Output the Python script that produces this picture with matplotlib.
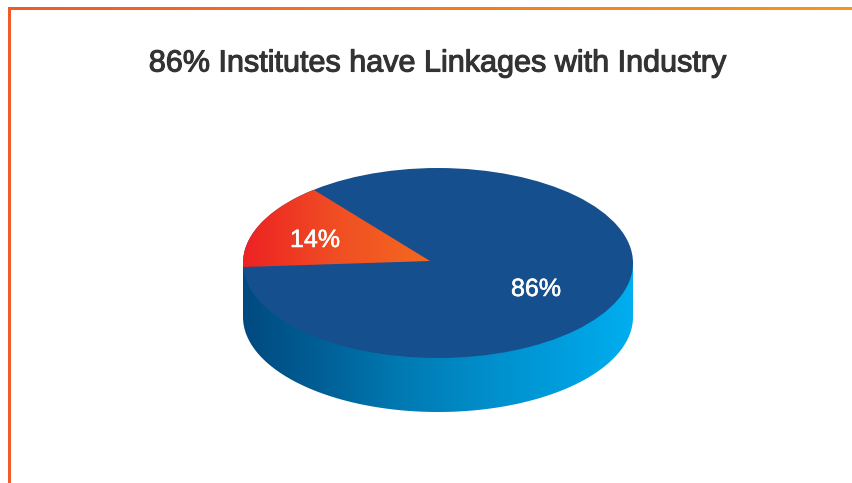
import numpy as np
import matplotlib
matplotlib.use("Agg")
import matplotlib.pyplot as plt
from matplotlib.patches import Circle, Polygon
from matplotlib.colors import LinearSegmentedColormap
import matplotlib.patheffects as pe

title = "86% Institutes have Linkages with Industry"
categories = ["No linkages", "Linkages"]
values = [14, 86]
labels = ["14%", "86%"]

W, H = 853, 483
CX, CY, RX, RY = 438, 263, 195, 95   # ellipse of the pie's top, pixels
DEPTH = 54 / RY
APEX = (-8 / RX, 2 / RY)
START = 128.5
STRETCH = 1.097                      # perspective widening of the slice


def ux(p):
    return (p - CX) / RX


def uy(p):
    return (CY - p) / RY


fig = plt.figure(figsize=(W / 100, H / 100), dpi=100, facecolor="white")
ax = fig.add_axes([0, 0, 1, 1])
ax.axis("off")
xlim = (ux(0), ux(W))
ylim = (uy(H), uy(0))


def gradient(colors, extent, clip, z=2):
    cmap = LinearSegmentedColormap.from_list("g", colors)
    g = np.linspace(0, 1, 256)[None, :]
    im = ax.imshow(g, cmap=cmap, extent=extent, aspect="auto", zorder=z,
                   origin="lower", interpolation="bilinear")
    if clip is not None:
        im.set_clip_path(clip)
    return im


# side of the cylinder
t = np.linspace(np.pi, 2 * np.pi, 300)
side_pts = np.vstack([np.c_[np.cos(t), np.sin(t) - DEPTH], [[1, 0], [-1, 0]]])
side = Polygon(side_pts, closed=True, transform=ax.transData, fc="none", ec="none")
ax.add_patch(side)
gradient(["#004a80", "#005f96", "#0079b2", "#008cc8", "#009cdc", "#00aeef"],
         (-1, 1, -1 - DEPTH, 0), side, z=1)

# top of the pie
ax.add_patch(Circle((0, 0), 1, fc="#154f8d", ec="none", zorder=2))

# small slice: apex, then points on the rim along the slice's directions
span = values[0] / sum(values) * 360 * STRETCH
th = np.radians(np.linspace(START, START + span, 200))
dirs = np.c_[np.cos(th), np.sin(th)]
b = (dirs * APEX).sum(1)
c = APEX[0] ** 2 + APEX[1] ** 2 - 1
r = -b + np.sqrt(b ** 2 - c)
slice_pts = np.vstack([[APEX], np.array(APEX) + dirs * r[:, None]])
slice_patch = Polygon(slice_pts, closed=True, transform=ax.transData, fc="none", ec="none")
ax.add_patch(slice_patch)
gradient(["#ed2224", "#f04e23", "#f4691f"], (-1, APEX[0], -0.2, 1), slice_patch, z=3)

# frame
gradient(["#f15a29", "#f47b20", "#f7941d"], (ux(7.5), ux(W), uy(10), uy(7.0)), None, z=4)
ax.fill_between([ux(7.5), ux(11)], uy(H), uy(7.5), color="#f15a29", lw=0, zorder=4)

ax.set_xlim(xlim)
ax.set_ylim(ylim)

# text
ax.text(ux(437), uy(63.5), title, ha="center", va="center", fontsize=22,
        family="Liberation Sans", color="#333333", zorder=6,
        path_effects=[pe.withStroke(linewidth=0.8, foreground="#333333")])
stroke = [pe.withStroke(linewidth=0.4, foreground="white")]
ax.text(ux(315), uy(240), labels[0], ha="center", va="center", fontsize=18,
        family="Liberation Sans", color="white", zorder=6, path_effects=stroke)
ax.text(ux(536), uy(289), labels[1], ha="center", va="center", fontsize=18,
        family="Liberation Sans", color="white", zorder=6, path_effects=stroke)

fig.savefig("out.png", dpi=100, facecolor="white")
